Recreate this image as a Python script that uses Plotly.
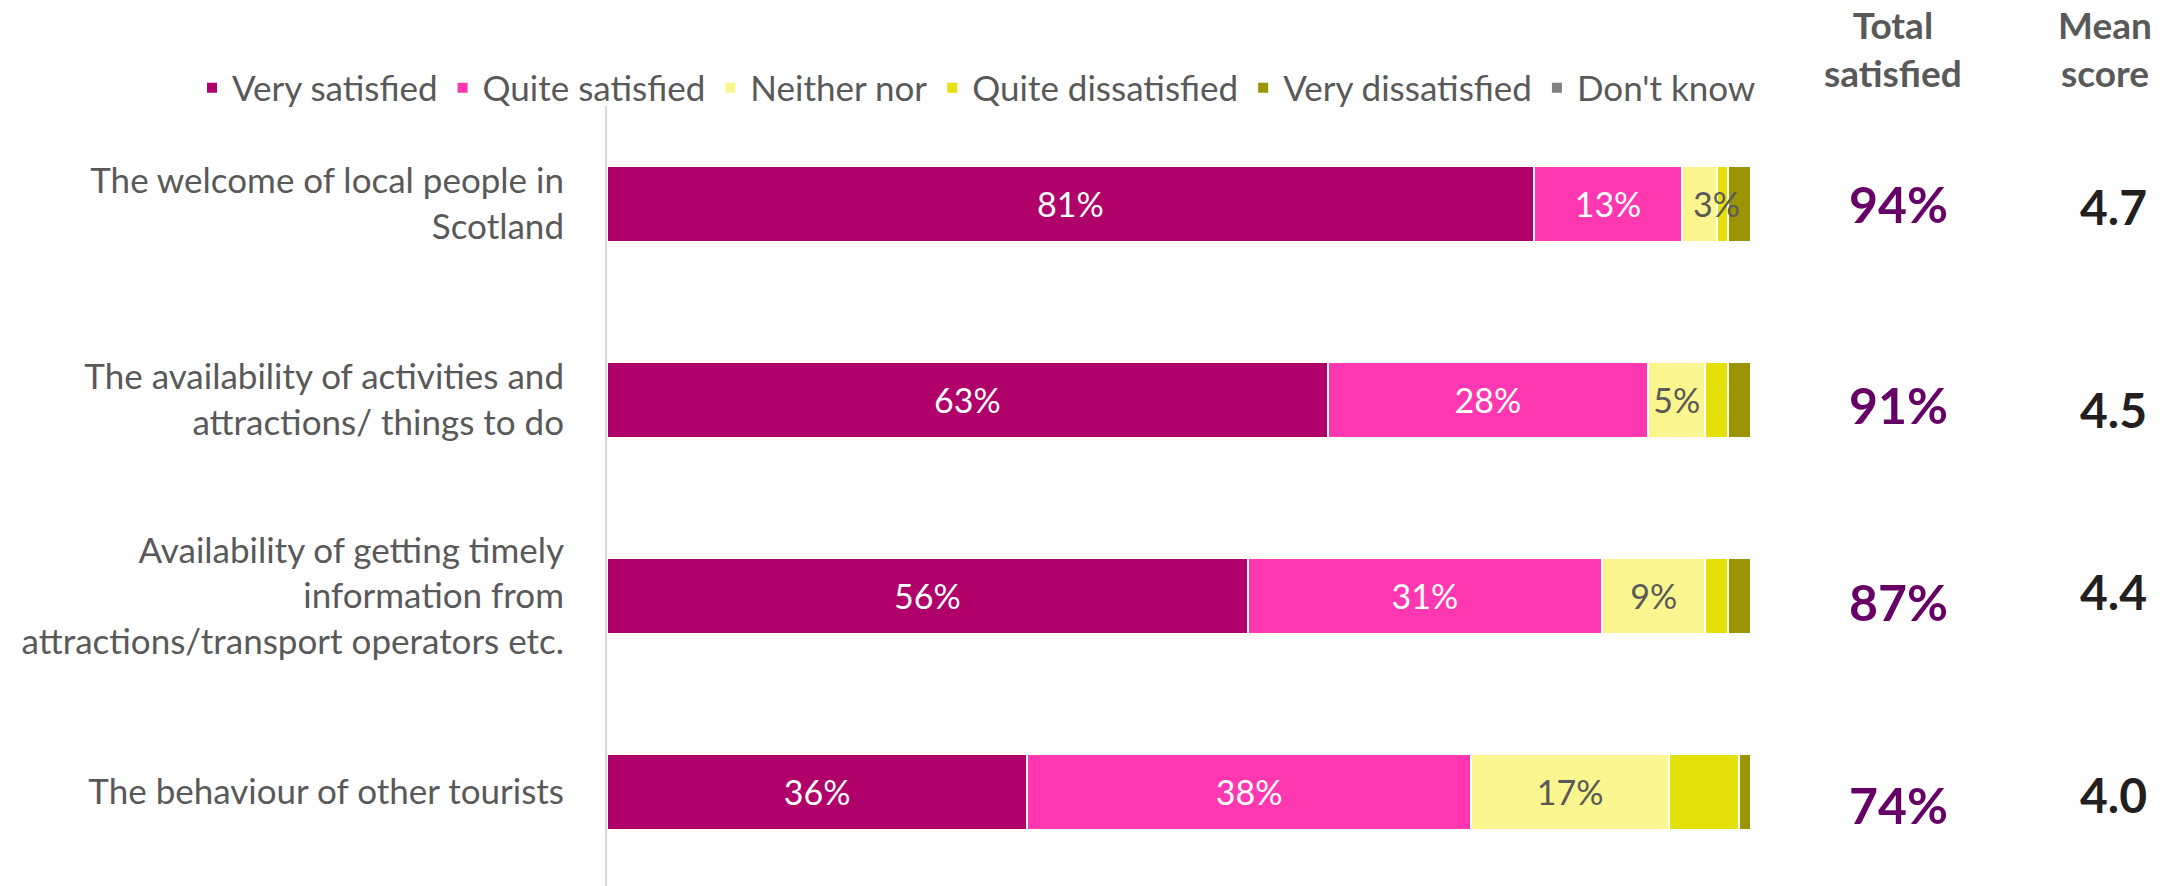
import plotly.graph_objects as go

# Survey statements (top to bottom)
categories = [
    "The welcome of local people in<br>Scotland",
    "The availability of activities and<br>attractions/ things to do",
    "Availability of getting timely<br>information from<br>attractions/transport operators etc.",
    "The behaviour of other tourists",
]

# Response shares (%), one list per answer option
very_satisfied = [81, 63, 56, 36]
quite_satisfied = [13, 28, 31, 38]
neither_nor = [3, 5, 9, 17]
quite_dissatisfied = [1, 2, 2, 6]
very_dissatisfied = [2, 2, 2, 1]
dont_know = [0, 0, 0, 0]

# Summary columns
total_satisfied = ["94%", "91%", "87%", "74%"]
mean_score = ["4.7", "4.5", "4.4", "4.0"]

FONT = "Lato"
GREY_TEXT = "#595959"
NARROW = 4  # segments below this share get their label drawn above the bars

series = [
    ("Very satisfied", very_satisfied, "#B0006A", "white", True),
    ("Quite satisfied", quite_satisfied, "#FF37B0", "white", True),
    ("Neither nor", neither_nor, "#F9F58F", GREY_TEXT, True),
    ("Quite dissatisfied", quite_dissatisfied, "#E6E00A", GREY_TEXT, False),
    ("Very dissatisfied", very_dissatisfied, "#9B9405", GREY_TEXT, False),
    ("Don't know", dont_know, "#808080", GREY_TEXT, False),
]

plot_top, plot_bottom = 106, 886
plot_left, plot_w = 607, 1144


def px_x(px):
    return (px - plot_left) / plot_w


def px_y(px):
    return (plot_bottom - px) / (plot_bottom - plot_top)


fig = go.Figure()
annotations = []
row_totals = [sum(s[1][i] for s in series) for i in range(len(categories))]
cumulative = [0] * len(categories)
for name, vals, color, tcolor, labelled in series:
    texts = None
    if labelled:
        texts = [f"{v}%" if v >= NARROW else "" for v in vals]
        # narrow segments: label sits at the segment's right end, over the bar
        for i, v in enumerate(vals):
            if 0 < v < NARROW:
                annotations.append(dict(
                    x=(cumulative[i] + v) / row_totals[i] * 100, y=categories[i],
                    xref="x", yref="y", text=f"{v}%", showarrow=False,
                    font=dict(family=FONT, size=34, color=tcolor),
                    xanchor="center", yanchor="middle",
                ))
    fig.add_trace(go.Bar(
        y=categories,
        x=vals,
        name=name,
        orientation="h",
        marker=dict(color=color, line=dict(color="white", width=2)),
        text=texts,
        texttemplate="%{text}" if labelled else None,
        textposition="inside" if labelled else "none",
        insidetextanchor="middle",
        constraintext="none",
        textangle=0,
        textfont=dict(family=FONT, size=34, color=tcolor),
        width=0.39,
        hoverinfo="skip",
    ))
    cumulative = [c + v for c, v in zip(cumulative, vals)]

# Column headers
for label, cx in (("<b>Total<br>satisfied</b>", 1893), ("<b>Mean<br>score</b>", 2105)):
    annotations.append(dict(
        x=px_x(cx), y=px_y(48), xref="paper", yref="paper",
        text=label, showarrow=False,
        font=dict(family=FONT, size=37, color=GREY_TEXT),
        xanchor="center", yanchor="middle",
    ))

ts_shift = [0, -5, -6, -13]
ms_shift = [-3, -10, 4, -3]
for i, cat in enumerate(categories):
    annotations.append(dict(
        x=px_x(1898), y=cat, xref="paper", yref="y",
        text=f"<b>{total_satisfied[i]}</b>", showarrow=False,
        font=dict(family=FONT, size=50, color="#660066"),
        xanchor="center", yanchor="middle", yshift=ts_shift[i],
    ))
    annotations.append(dict(
        x=px_x(2113), y=cat, xref="paper", yref="y",
        text=f"<b>{mean_score[i]}</b>", showarrow=False,
        font=dict(family=FONT, size=48, color="#231F20"),
        xanchor="center", yanchor="middle", yshift=ms_shift[i],
    ))

fig.update_layout(
    width=2169,
    height=886,
    margin=dict(l=plot_left, r=2169 - plot_left - plot_w, t=plot_top, b=886 - plot_bottom),
    barmode="stack",
    barnorm="percent",
    plot_bgcolor="white",
    paper_bgcolor="white",
    font=dict(family=FONT, color=GREY_TEXT),
    showlegend=True,
    legend=dict(
        orientation="h",
        x=px_x(192), xanchor="left",
        y=px_y(88), yanchor="middle",
        font=dict(family=FONT, size=35, color=GREY_TEXT),
        traceorder="normal",
        itemclick=False,
        bgcolor="rgba(0,0,0,0)",
    ),
    xaxis=dict(range=[0, 100], visible=False, fixedrange=True),
    yaxis=dict(
        categoryorder="array",
        categoryarray=categories,
        range=[3.48, -0.5],
        showline=True,
        linecolor="#D9D9D9",
        linewidth=2,
        showgrid=False,
        zeroline=False,
        ticks="",
        ticklabelstandoff=34,
        tickfont=dict(family=FONT, size=35, color=GREY_TEXT),
        fixedrange=True,
    ),
    annotations=annotations,
)

fig.write_html("out.html")
